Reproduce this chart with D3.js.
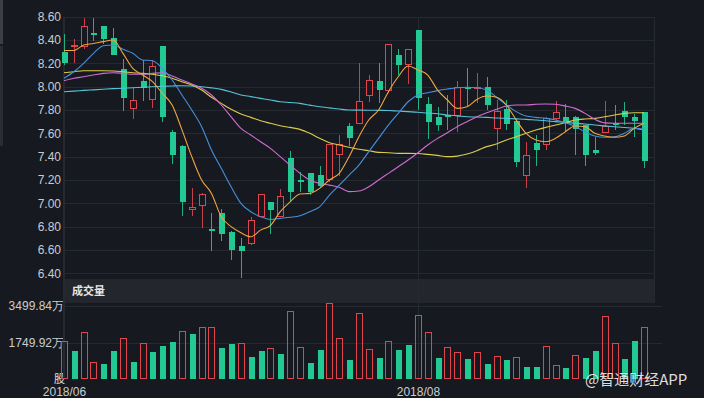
<!DOCTYPE html>
<html><head><meta charset="utf-8">
<script src="https://cdn.jsdelivr.net/npm/d3@7/dist/d3.min.js"></script>
<style>html,body{margin:0;padding:0;background:#161a20;overflow:hidden}svg{display:block}</style>
</head><body><svg id="c" width="704" height="398"></svg>
<script>
// ---- data ----
const opens  = [8.30,8.34,8.34,8.46,8.52,8.42,8.15,7.81,8.05,7.89,8.35,7.61,7.49,6.94,6.98,6.78,6.92,6.75,6.63,6.65,6.88,7.01,6.88,7.39,7.20,7.26,7.24,7.20,7.41,7.66,7.68,7.92,8.05,7.96,8.27,8.19,8.49,7.85,7.74,7.76,7.75,8.00,7.98,8.00,7.64,7.81,7.71,7.23,7.52,7.50,7.72,7.74,7.74,7.67,7.46,7.60,7.69,7.79,7.74,7.78];
const closes = [8.20,8.36,8.52,8.44,8.41,8.27,7.90,7.89,7.99,8.18,7.74,7.41,7.01,6.97,7.08,6.77,6.74,6.60,6.59,6.86,7.08,6.94,7.06,7.10,7.19,7.10,7.15,7.51,7.51,7.56,7.88,8.06,7.97,8.37,8.19,8.32,7.90,7.70,7.67,7.74,8.00,7.98,8.00,7.84,7.79,7.68,7.35,7.41,7.46,7.73,7.78,7.69,7.64,7.41,7.43,7.66,7.67,7.74,7.71,7.36];
const highs  = [8.45,8.41,8.59,8.59,8.52,8.50,8.24,7.99,8.23,8.23,8.35,7.63,7.50,7.13,7.09,6.92,6.95,6.76,6.70,6.88,7.08,7.01,7.12,7.45,7.27,7.26,7.32,7.51,7.59,7.69,8.20,8.10,8.20,8.37,8.32,8.32,8.49,7.91,7.83,7.93,8.05,8.16,8.12,8.08,7.89,7.89,7.72,7.53,7.59,7.74,7.88,7.85,7.75,7.67,7.57,7.88,7.84,7.87,7.77,7.78];
const lows   = [8.19,8.20,8.32,8.39,8.37,8.27,7.79,7.72,7.88,7.82,7.70,7.34,6.89,6.89,6.79,6.59,6.68,6.51,6.36,6.64,6.88,6.74,6.88,7.02,7.10,7.07,7.14,7.18,7.23,7.49,7.68,7.87,7.86,7.95,8.10,8.02,7.80,7.55,7.62,7.63,7.61,7.83,7.86,7.80,7.46,7.63,7.31,7.13,7.32,7.46,7.70,7.61,7.41,7.32,7.41,7.60,7.63,7.67,7.57,7.30];
// volume in 万股
const volumes = [1822,1357,2253,815,719,1342,1966,815,1726,1294,1582,1774,2301,2157,2493,2493,1486,1678,1726,1055,1342,1486,1198,3260,1534,767,1390,3620,1966,911,3164,1438,1007,1822,1390,1630,3068,2253,1007,1534,1294,959,1294,719,1103,911,1055,575,575,1582,671,527,1151,1007,1342,3020,1726,959,1822,2493];
// 1 = red (hollow) volume bar, 0 = green (filled)
const volUp = [1,0,1,1,0,0,1,0,1,0,0,0,1,0,1,1,0,0,1,0,0,1,0,1,1,0,0,1,1,0,1,1,0,1,0,0,1,1,0,1,1,0,1,0,1,0,1,0,0,1,1,0,1,0,0,1,1,0,0,1];
const ma5  = [8.31,8.31,8.357,8.37,8.386,8.40,8.286,8.157,8.10,8.043,7.943,7.843,7.63,7.40,7.20,7.085,6.885,6.80,6.748,6.713,6.77,6.81,6.928,7.013,7.08,7.085,7.128,7.20,7.257,7.40,7.571,7.714,7.80,7.957,8.085,8.177,8.143,8.10,7.971,7.886,7.814,7.828,7.891,7.92,7.909,7.843,7.714,7.60,7.543,7.528,7.557,7.614,7.663,7.657,7.60,7.577,7.566,7.577,7.643,7.686];
const ma10 = [8.072,8.128,8.20,8.286,8.351,8.357,8.32,8.286,8.229,8.223,8.157,8.057,7.929,7.80,7.657,7.457,7.30,7.142,7.0,6.928,6.885,6.862,6.871,6.88,6.893,6.928,6.97,7.07,7.156,7.242,7.328,7.443,7.557,7.671,7.771,7.871,7.929,7.948,7.966,7.98,7.991,7.995,7.991,7.971,7.909,7.843,7.786,7.748,7.737,7.728,7.714,7.69,7.657,7.614,7.577,7.566,7.571,7.60,7.643,7.634];
const ma20 = [8.051,8.072,8.085,8.10,8.114,8.12,8.114,8.106,8.106,8.114,8.12,8.091,8.057,8.023,7.986,7.929,7.843,7.742,7.643,7.586,7.528,7.471,7.40,7.328,7.257,7.20,7.171,7.156,7.137,7.10,7.105,7.142,7.20,7.257,7.314,7.371,7.434,7.50,7.557,7.605,7.657,7.70,7.742,7.777,7.806,7.834,7.843,7.843,7.849,7.852,7.849,7.834,7.814,7.771,7.72,7.69,7.686,7.686,7.686,7.686];
const ma30 = [8.12,8.128,8.137,8.137,8.137,8.134,8.128,8.12,8.114,8.106,8.094,8.072,8.043,8.014,7.971,7.909,7.857,7.806,7.766,7.737,7.708,7.686,7.665,7.651,7.634,7.60,7.557,7.52,7.50,7.48,7.463,7.451,7.437,7.434,7.428,7.428,7.427,7.42,7.411,7.40,7.405,7.423,7.451,7.486,7.508,7.543,7.571,7.60,7.628,7.651,7.671,7.69,7.714,7.723,7.728,7.742,7.757,7.771,7.777,7.777];
const ma60 = [7.957,7.962,7.968,7.973,7.978,7.983,7.987,7.991,7.995,7.999,8.003,8.006,8.008,8.006,8.000,7.99,7.977,7.955,7.929,7.915,7.90,7.886,7.871,7.864,7.857,7.842,7.828,7.818,7.808,7.80,7.799,7.798,7.797,7.796,7.791,7.786,7.781,7.774,7.768,7.757,7.75,7.742,7.74,7.737,7.732,7.728,7.724,7.72,7.714,7.708,7.70,7.694,7.686,7.68,7.671,7.664,7.657,7.65,7.643,7.628];
const priceTicks = [8.60,8.40,8.20,8.00,7.80,7.60,7.40,7.20,7.00,6.80,6.60,6.40];
const volTicks = [3499.84,1749.92];
const volTickLabels = ["3499.84万","1749.92万"];
const dateTickIdx = [0,36];
const dateTickLabels = ["2018/06","2018/08"];

// ---- layout ----
const L = 63, R = 654;
const svg = d3.select("#c");
const FONT = "'Liberation Sans', Arial, sans-serif";
const x = d3.scaleLinear().domain([0, opens.length-1]).range([64, 644]);
const y = d3.scaleLinear().domain([6.40, 8.60]).range([273.3, 16.7]);
const vy = d3.scaleLinear().domain([0, 3499.84]).range([379, 306]);
const RED = "#e0454d", GREEN = "#22c993", GRID = "#252a31", TXT = "#c9ccd1";
const RED_W = "#c8404a", GREEN_W = "#1fb184";

svg.append("rect").attr("width",704).attr("height",398).attr("fill","#161a20");
// left UI strip
svg.append("rect").attr("x",0).attr("y",0).attr("width",3).attr("height",44).attr("fill","#3c3f45");
svg.append("rect").attr("x",0).attr("y",46).attr("width",3).attr("height",100).attr("fill","#2a2d33");

// volume header band
svg.append("rect").attr("x",L).attr("y",279).attr("width",R-L).attr("height",24).attr("fill","#23262c");
svg.append("text").attr("x",72).attr("y",295).attr("fill","#e6e6e6").attr("font-size",11)
  .attr("font-weight","bold").attr("font-family","'Noto Sans CJK SC', sans-serif").text("成交量");

// price axis + grid
const pa = svg.append("g").attr("transform",`translate(${L},0)`)
  .call(d3.axisLeft(y).tickValues(priceTicks).tickFormat(d3.format(".2f")).tickSize(-(R-L)).tickPadding(2));
pa.select(".domain").remove();
pa.selectAll("line").attr("stroke",GRID).attr("shape-rendering","crispEdges");
pa.selectAll("text").attr("fill",TXT).attr("font-size",12).attr("font-family",FONT);

// volume axis + grid
const va = svg.append("g").attr("transform",`translate(${L},0)`)
  .call(d3.axisLeft(vy).tickValues(volTicks).tickFormat((d,i)=>volTickLabels[i]).tickSize(-(662-L)).tickPadding(-1));
va.select(".domain").remove();
va.selectAll("line").attr("stroke",GRID).attr("shape-rendering","crispEdges");
va.selectAll("text").attr("fill",TXT).attr("font-size",12).attr("font-family",FONT);
svg.append("text").attr("x",65).attr("y",vy(0)+4).attr("text-anchor","end").attr("fill","#e0e0e0")
  .attr("font-size",11).attr("font-family","'Noto Sans CJK SC', sans-serif").text("股");

// date axis + vertical grid
const xa = svg.append("g").attr("transform",`translate(0,379)`)
  .call(d3.axisBottom(x).tickValues(dateTickIdx).tickFormat((d,i)=>dateTickLabels[i]).tickSize(-362).tickPadding(8.5));
xa.select(".domain").remove();
xa.selectAll("line").attr("stroke",GRID).attr("shape-rendering","crispEdges");
xa.selectAll("text").attr("fill",TXT).attr("font-size",12).attr("font-family",FONT);
// borders
svg.append("line").attr("x1",R+0.5).attr("x2",R+0.5).attr("y1",16.7).attr("y2",303).attr("stroke",GRID);
svg.append("line").attr("x1",L+0.5).attr("x2",L+0.5).attr("y1",16.7).attr("y2",379).attr("stroke",GRID);

const data = opens.map((o,i)=>({i,o,c:closes[i],h:highs[i],l:lows[i],v:volumes[i],vu:volUp[i]}));

// candles
const cg = svg.append("g").attr("shape-rendering","crispEdges");
data.forEach(d=>{
  const cx = Math.round(x(d.i));
  const up = d.c > d.o;
  const col = up ? RED : GREEN;
  const wc = up ? RED_W : GREEN_W;
  const top = Math.round(y(Math.max(d.o,d.c))), bot = Math.round(y(Math.min(d.o,d.c)));
  const hy = Math.round(y(d.h)), ly = Math.round(y(d.l));
  if (up) {
    cg.append("line").attr("x1",cx+0.5).attr("x2",cx+0.5).attr("y1",hy).attr("y2",top).attr("stroke",wc);
    cg.append("line").attr("x1",cx+0.5).attr("x2",cx+0.5).attr("y1",bot).attr("y2",ly).attr("stroke",wc);
    cg.append("rect").attr("x",cx-2.5).attr("y",top+0.5).attr("width",6).attr("height",Math.max(bot-top-1,1))
      .attr("fill","#161a20").attr("stroke",col).attr("stroke-width",1);
  } else {
    cg.append("line").attr("x1",cx+0.5).attr("x2",cx+0.5).attr("y1",hy).attr("y2",ly).attr("stroke",wc);
    cg.append("rect").attr("x",cx-2.5).attr("y",top).attr("width",6).attr("height",Math.max(bot-top,2))
      .attr("fill",col);
  }
});

// volume bars
const vg = svg.append("g").attr("shape-rendering","crispEdges");
data.forEach(d=>{
  const cx = Math.round(x(d.i));
  const t = Math.round(vy(d.v));
  if (d.vu) {
    vg.append("rect").attr("x",cx-2.5).attr("y",t+0.5).attr("width",6).attr("height",379-t-1)
      .attr("fill","none").attr("stroke",RED);
  } else {
    vg.append("rect").attr("x",cx-2.5).attr("y",t).attr("width",6).attr("height",379-t).attr("fill",GREEN);
  }
});

// moving averages
const line = d3.line().x((d,i)=>x(i)).y(d=>y(d)).curve(d3.curveMonotoneX);
[[ma60,"#56c4d8"],[ma30,"#dccb4c"],[ma20,"#d26ad4"],[ma10,"#4590dc"],[ma5,"#f0a540"]].forEach(([arr,col])=>{
  svg.append("path").attr("d",line(arr)).attr("fill","none").attr("stroke",col).attr("stroke-width",1.1);
});

// watermark
svg.append("text").attr("x",585).attr("y",385).attr("fill","#f2f2f2").attr("fill-opacity",0.92)
  .attr("stroke","#000").attr("stroke-opacity",0.25).attr("stroke-width",0.6).attr("paint-order","stroke")
  .attr("font-size",15).attr("font-family","'Noto Sans CJK SC', sans-serif").text("@智通财经APP");
</script></body></html>
